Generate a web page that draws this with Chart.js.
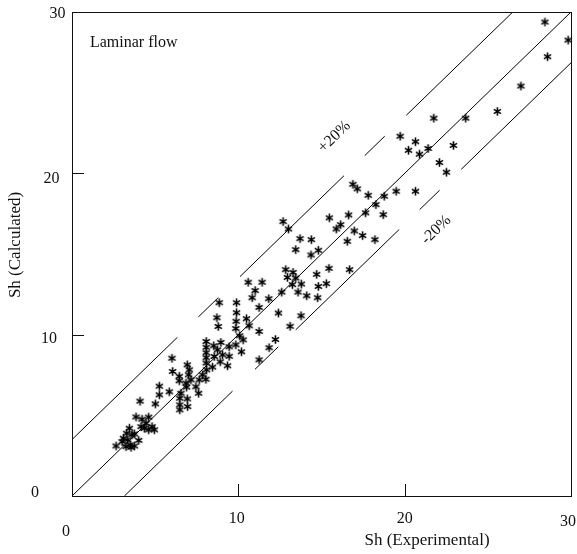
<!DOCTYPE html>
<html><head><meta charset="utf-8">
<script src="https://cdn.jsdelivr.net/npm/chart.js@4/dist/chart.umd.min.js"></script>
<style>html,body{margin:0;padding:0;background:#fff;}canvas{display:block;}</style>
</head><body>
<canvas id="c" width="577" height="554"></canvas>
<script>
// Experimental vs calculated Sherwood numbers
const expX = [28.43,29.83,28.59,26.99,25.57,21.75,23.67,19.73,20.65,20.23,20.89,21.41,22.93,22.09,22.51,18.77,19.49,20.65,18.71,18.27,16.89,17.15,17.81,12.69,13.01,15.47,16.63,16.15,15.89,17.65,16.97,17.47,18.21,16.55,13.71,14.39,13.45,14.37,14.81,12.85,13.29,12.95,13.45,13.25,13.79,14.71,15.45,16.69,14.81,15.29,13.59,14.11,14.77,13.77,13.11,12.61,11.83,11.25,12.41,10.59,11.43,11.01,10.83,11.25,12.23,11.85,11.25,10.19,10.65,8.85,9.89,9.89,10.49,8.71,8.79,9.87,9.85,10.08,10.29,9.45,8.95,9.45,8.91,8.07,8.07,8.07,8.07,8.07,8.52,8.75,8.55,9.05,9.85,8.09,8.45,9.35,7.85,7.65,7.45,7.61,8.05,6.93,7.05,7.01,7.15,6.85,6.01,6.05,6.45,6.45,6.89,6.55,6.48,6.48,6.48,6.93,6.95,5.25,5.25,5.85,5.01,4.09,3.85,4.21,4.61,4.45,4.15,4.61,4.81,4.95,3.45,3.29,3.61,3.09,3.01,3.35,3.49,3.55,2.65,4.01,3.75,3.25,3.75,4.35];
const calcY = [29.38,28.26,27.23,25.41,23.84,23.42,23.42,22.30,21.96,21.43,21.19,21.54,21.73,20.67,20.07,18.58,18.89,18.89,17.44,18.06,19.32,19.04,18.64,17.01,16.55,17.24,17.42,16.82,16.55,17.55,16.43,16.14,15.89,15.79,15.95,15.89,15.27,14.94,15.23,14.03,13.86,13.55,13.51,13.10,13.14,13.74,14.11,14.03,12.99,13.16,12.64,12.41,12.29,11.17,10.52,12.64,12.23,11.69,11.34,13.25,13.25,12.73,12.29,10.20,9.70,9.19,8.44,8.94,10.55,11.98,11.98,11.36,10.99,11.05,10.51,10.83,10.38,9.93,9.68,9.25,9.52,8.66,8.32,9.58,9.22,8.88,8.57,8.24,9.31,9.06,8.65,8.75,9.37,7.82,7.99,8.07,7.51,7.20,6.77,6.37,7.24,8.13,7.82,7.51,7.20,7.00,8.54,7.72,7.42,7.14,6.75,6.37,6.06,5.65,5.34,6.02,5.54,6.81,6.27,6.46,5.71,5.88,4.90,4.76,4.89,4.51,4.30,4.10,4.30,4.10,4.20,3.89,3.79,3.58,3.37,3.48,3.17,3.02,3.10,3.45,3.85,3.06,3.10,4.20];

// Reference lines (segments separated by gaps, as drawn)
const parityX = [0, 30];
const parityY = [0, 30];
const upperBandX = [0, 6.33, 6.9, 7.6, 8.8, 9.4, 10.1, 16.35, 17.0, 17.6, 18.8, 19.4, 20.1, 26.5];
const upperBandY = [3.5, 9.83, null, 11.1, 12.3, null, 13.6, 19.85, null, 21.1, 22.3, null, 23.6, 30];
const lowerBandX = [3.15, 9.65, 10.3, 11.0, 12.4, 12.9, 13.45, 19.67, 20.3, 20.9, 22.1, 22.7, 23.4, 30];
const lowerBandY = [0, 6.5, null, 7.85, 9.25, null, 10.3, 16.52, null, 17.75, 18.95, null, 20.25, 26.85];

// Axes
const axisMin = 0, axisMax = 30;
const xTicks = [0, 10, 20, 30];
const yTicks = [0, 10, 20, 30];
const xTickLabels = ['0', '10', '20', '30'];
const yTickLabels = ['0', '10', '20', '30'];
const xTitle = 'Sh (Experimental)';
const yTitle = 'Sh (Calculated)';
const noteText = 'Laminar flow';
const upperLabel = '+20%';
const lowerLabel = '-20%';

const FONT = '"Liberation Serif", "Times New Roman", serif';
const INK = '#111';

function zip(xs, ys){ return xs.map((v,i)=>({x:v, y:ys[i]})); }

function makeAsterisk(){
  const s = 11, c = document.createElement('canvas');
  c.width = s; c.height = s;
  const g = c.getContext('2d');
  g.strokeStyle = '#000'; g.lineWidth = 1.6;
  const r = 4.2, cx = s/2, cy = s/2;
  g.beginPath();
  for (const ang of [90, 30, 150]) {
    const t = ang*Math.PI/180;
    g.moveTo(cx - r*Math.cos(t), cy - r*Math.sin(t));
    g.lineTo(cx + r*Math.cos(t), cy + r*Math.sin(t));
  }
  g.stroke();
  return c;
}

// label placement tweaks (pixel offsets from scale positions)
const yLabelDX = [-37, -23, -20.5, -14.5];
const yLabelDY = [-3, 4.5, 5.5, 2];
const xLabelDX = [-6, -1.5, 0, -3];
const xLabelY  = [532, 519, 519, 522];

const decorPlugin = {
  id: 'decor',
  afterDraw(chart){
    const {ctx, chartArea: a, scales: {x, y}} = chart;
    ctx.save();
    ctx.strokeStyle = INK; ctx.lineWidth = 1;
    ctx.strokeRect(a.left + 0.5, a.top + 0.5, a.right - a.left, a.bottom - a.top);
    ctx.beginPath();
    xTicks.filter(v => v > axisMin && v < axisMax).forEach(v => {
      const px = Math.round(x.getPixelForValue(v)) + 0.5;
      ctx.moveTo(px, a.bottom); ctx.lineTo(px, a.bottom - 12);
    });
    yTicks.filter(v => v > axisMin && v < axisMax).forEach(v => {
      const py = Math.round(y.getPixelForValue(v)) + 0.5;
      ctx.moveTo(a.left, py); ctx.lineTo(a.left + 12, py);
    });
    ctx.stroke();

    ctx.fillStyle = INK;
    ctx.font = '16px ' + FONT;
    ctx.textAlign = 'center'; ctx.textBaseline = 'middle';
    yTicks.forEach((v, i) => {
      ctx.fillText(yTickLabels[i], a.left + yLabelDX[i], y.getPixelForValue(v) + yLabelDY[i]);
    });
    xTicks.forEach((v, i) => {
      ctx.fillText(xTickLabels[i], x.getPixelForValue(v) + xLabelDX[i], xLabelY[i]);
    });

    ctx.font = '17px ' + FONT;
    ctx.fillText(xTitle, 427, 541);
    ctx.save();
    ctx.translate(16, 245);
    ctx.rotate(-Math.PI/2);
    ctx.fillText(yTitle, 0, 0);
    ctx.restore();

    ctx.font = '16px ' + FONT;
    ctx.textAlign = 'left';
    ctx.fillText(noteText, x.getPixelForValue(1.08), y.getPixelForValue(28.08));

    ctx.textAlign = 'center';
    [[upperLabel, 15.78, 22.26], [lowerLabel, 21.9, 16.49]].forEach(([t, vx, vy]) => {
      ctx.save();
      ctx.translate(x.getPixelForValue(vx), y.getPixelForValue(vy));
      ctx.rotate(-44*Math.PI/180);
      ctx.fillText(t, 0, 0);
      ctx.restore();
    });
    ctx.restore();
  }
};

const lineStyle = {showLine: true, borderColor: '#000', borderWidth: 1, pointRadius: 0, spanGaps: false, fill: false};

new Chart(document.getElementById('c'), {
  type: 'scatter',
  data: {
    datasets: [
      Object.assign({label: 'y = x', data: zip(parityX, parityY)}, lineStyle),
      Object.assign({label: '+20%', data: zip(upperBandX, upperBandY)}, lineStyle),
      Object.assign({label: '-20%', data: zip(lowerBandX, lowerBandY)}, lineStyle),
      {label: 'Sh', data: zip(expX, calcY), pointStyle: makeAsterisk(), pointRadius: 5, clip: false}
    ]
  },
  options: {
    responsive: false,
    animation: false,
    devicePixelRatio: 1,
    layout: {padding: {left: 72, right: 5, top: 12, bottom: 58}},
    plugins: {legend: {display: false}, tooltip: {enabled: false}},
    scales: {
      x: {type: 'linear', min: axisMin, max: axisMax, display: false},
      y: {type: 'linear', min: axisMin, max: axisMax, display: false}
    }
  },
  plugins: [decorPlugin]
});
</script>
</body></html>
